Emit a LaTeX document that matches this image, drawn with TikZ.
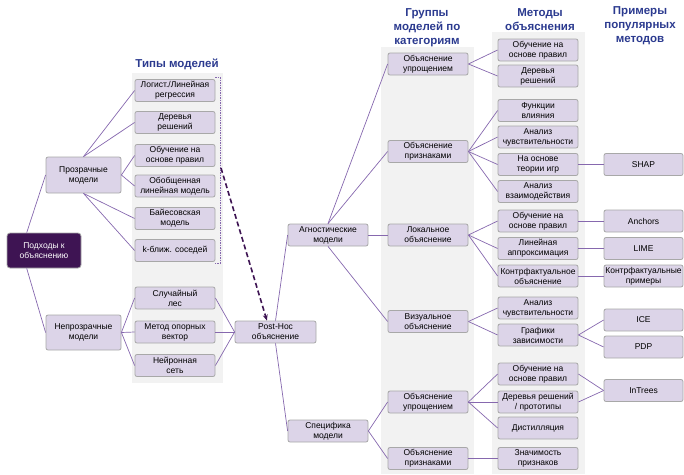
\documentclass[tikz,border=0pt]{standalone}
\usepackage{fontspec}
\setmainfont{Liberation Sans}
\usetikzlibrary{arrows.meta}
\definecolor{boxfill}{HTML}{DCD4E8}
\definecolor{boxline}{HTML}{A8A8A8}
\definecolor{linkc}{HTML}{8668AE}
\definecolor{rootc}{HTML}{3E1453}
\definecolor{titlec}{HTML}{2B3A8F}
\definecolor{bandc}{HTML}{F2F2F2}
\tikzset{box/.style={draw=boxline, fill=boxfill, rounded corners=2pt, line width=0.8pt,
                     minimum width=80, minimum height=22, inner sep=1pt, align=center,
                     font=\fontsize{8.5}{10}\selectfont},
         rootbox/.style={box, fill=rootc, draw=boxline, text=white, minimum width=74, minimum height=35, rounded corners=3pt},
         title/.style={align=center, text=titlec, font=\fontsize{11.5}{14}\selectfont\bfseries},
         link/.style={draw=linkc, line width=0.7pt},
         hoc/.style={draw=rootc, line width=1.6pt, dash pattern=on 5pt off 3pt, -{Stealth[length=6pt,width=5pt]}},
         bracket/.style={draw=linkc, line width=0.7pt, dash pattern=on 1.5pt off 1pt},
        }

\begin{document}
\begin{tikzpicture}[x=1pt,y=-1pt]
        \useasboundingbox (0,0) rectangle (684,474);
        \fill[bandc](132,73)rectangle(223,383);
        \fill[bandc](381,47)rectangle(474,474);
        \fill[bandc](492,32)rectangle(585,474);

        \node[title](ttypes)at(177,64){Типы моделей};
        \node[title](tgroups)at(427,28){Группы\\моделей по\\категориям};
        \node[title](tmeth)at(540,20){Методы\\объяснения};
        \node[title](texam)at(640,26){Примеры\\популярных\\методов};

        \node[rootbox](root)at(44,250.5){Подходы к\\объяснению};
        \node[box, minimum width=75, minimum height=36](tr)at(83.5,175){Прозрачные\\модели};
        \node[box, minimum width=75, minimum height=35](ntr)at(83.5,332.5){Непрозрачные\\модели};
        \draw[link](root.134)--(tr.west);
        \draw[link](root.226)--(ntr.west);

        \node[box](m1)at(175,90.5){Логист./Линейная\\регрессия};
        \node[box](m2)at(175,122.5){Деревья\\решений};
        \node[box](m3)at(175,155.5){Обучение на\\основе правил};
        \node[box](m4)at(175,186){Обобщенная\\линейная модель};
        \node[box](m5)at(175,218.5){Байесовская\\модель};
        \node[box](m6)at(175,250.5){k-ближ. соседей};
        \node[box](m7)at(175,298){Случайный\\лес};
        \node[box](m8)at(175,332){Метод опорных\\вектор};
        \node[box](m9)at(175,365.5){Нейронная\\сеть};
        \draw[link](tr.north)--(m1.west);
        \draw[link](tr.north)--(m2.west);
        \draw[link](tr.east)--(m3.west);
        \draw[link](tr.east)--(m4.west);
        \draw[link](tr.south)--(m5.west);
        \draw[link](tr.south)--(m6.west);
        \draw[link](ntr.east)--(m7.west);
        \draw[link](ntr.east)--(m8.west);
        \draw[link](ntr.east)--(m9.west);

        \node[box, minimum width=81](ph)at(275.5,332){Post-Hoc\\объяснение};
        \draw[link](m7.east)--(ph.west);
        \draw[link](m8.east)--(ph.west);
        \draw[link](m9.east)--(ph.west);

        % bracket over the transparent models
        \draw[bracket](215,77)--(220,77)--(220,263)--(215,263);
        \coordinate(brk)at(221,168);
        \draw[hoc](brk)--(ph.127);

        \node[box](ag)at(328,235){Агностические\\модели};
        \node[box](sp)at(328,431){Специфика\\модели};
        \draw[link](ph.north)--(ag.west);
        \draw[link](ph.south)--(sp.west);

        \node[box](g1)at(428,64){Объяснение\\упрощением};
        \node[box](g2)at(428,151.5){Объяснение\\признаками};
        \node[box](g3)at(428,235){Локальное\\объяснение};
        \node[box](g4)at(428,321.5){Визуальное\\объяснение};
        \node[box](g5)at(428,402){Объяснение\\упрощением};
        \node[box](g6)at(428,458.5){Объяснение\\признаками};
        \draw[link](ag.north)--(g1.west);
        \draw[link](ag.north)--(g2.west);
        \draw[link](ag.east)--(g3.west);
        \draw[link](ag.south)--(g4.west);
        \draw[link](sp.east)--(g5.west);
        \draw[link](sp.east)--(g6.west);

        \node[box](e1)at(538,50){Обучение на\\основе правил};
        \node[box](e2)at(538,76){Деревья\\решений};
        \node[box](e3)at(538,110.5){Функции\\влияния};
        \node[box](e4)at(538,137){Анализ\\чувствительности};
        \node[box](e5)at(538,164.5){На основе\\теории игр};
        \node[box](e6)at(538,191.5){Анализ\\взаимодействия};
        \node[box](e7)at(538,221){Обучение на\\основе правил};
        \node[box](e8)at(538,248.5){Линейная\\аппроксимация};
        \node[box](e9)at(538,276){Контрфактуальное\\объяснение};
        \node[box](e10)at(538,308){Анализ\\чувствительности};
        \node[box](e11)at(538,335){Графики\\зависимости};
        \node[box](e12)at(538,374){Обучение на\\основе правил};
        \node[box](e13)at(538,402){Деревья решений\\/ прототипы};
        \node[box](e14)at(538,428){Дистилляция};
        \node[box](e15)at(538,458.5){Значимость\\признаков};
        \draw[link](g1.east)--(e1.west);
        \draw[link](g1.east)--(e2.west);
        \draw[link](g2.east)--(e3.west);
        \draw[link](g2.east)--(e4.west);
        \draw[link](g2.east)--(e5.west);
        \draw[link](g2.east)--(e6.west);
        \draw[link](g3.east)--(e7.west);
        \draw[link](g3.east)--(e8.west);
        \draw[link](g3.east)--(e9.west);
        \draw[link](g4.east)--(e10.west);
        \draw[link](g4.east)--(e11.west);
        \draw[link](g5.east)--(e12.west);
        \draw[link](g5.east)--(e13.west);
        \draw[link](g5.east)--(e14.west);
        \draw[link](g6.east)--(e15.west);

        \node[box, minimum width=79](p1)at(643.5,164.5){SHAP};
        \node[box, minimum width=79](p2)at(643.5,221){Anchors};
        \node[box, minimum width=79](p3)at(643.5,248.5){LIME};
        \node[box, minimum width=79](p4)at(643.5,276){Контрфактуальные\\примеры};
        \node[box, minimum width=79](p5)at(643.5,320){ICE};
        \node[box, minimum width=79](p6)at(643.5,347){PDP};
        \node[box, minimum width=79](p7)at(643.5,390.5){InTrees};
        \draw[link](e5.east)--(p1.west);
        \draw[link](e7.east)--(p2.west);
        \draw[link](e8.east)--(p3.west);
        \draw[link](e9.east)--(p4.west);
        \draw[link](e11.east)--(p5.west);
        \draw[link](e11.east)--(p6.west);
        \draw[link](e12.east)--(p7.west);
        \draw[link](e13.east)--(p7.west);
\end{tikzpicture}
\end{document}
